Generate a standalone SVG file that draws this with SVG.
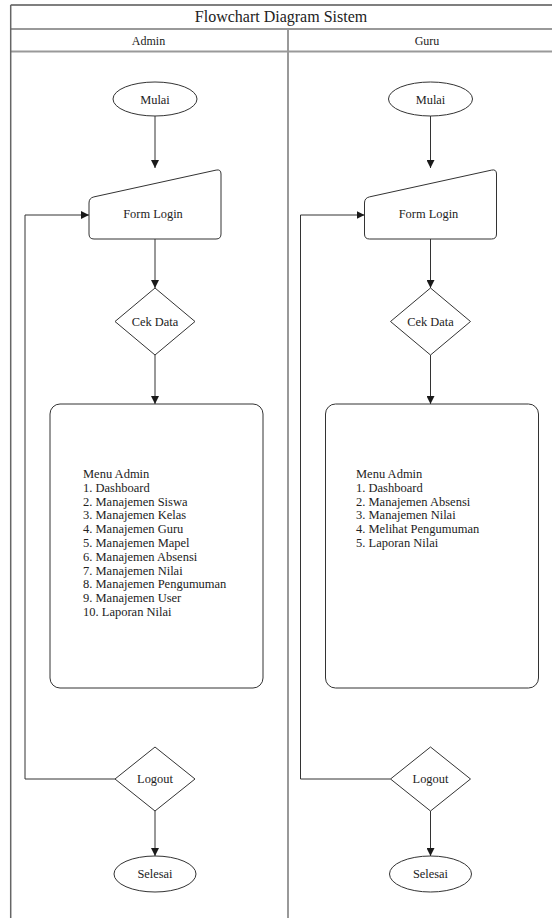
<svg xmlns="http://www.w3.org/2000/svg" width="552" height="918" viewBox="0 0 552 918">
<defs>
<marker id="arr" viewBox="0 0 10 10" refX="10" refY="5" markerWidth="8" markerHeight="8" markerUnits="userSpaceOnUse" orient="auto">
<path d="M0,0 L10,5 L0,10 Z" fill="#1a1a1a"/>
</marker>
</defs>
<style>
text{font-family:"Liberation Serif","Times New Roman",serif;fill:#222}
.t{font-size:16px;text-anchor:middle}
.h{font-size:12px;text-anchor:middle}
.n{font-size:12.4px;text-anchor:middle}
.m{font-size:12.5px}
.shape{fill:#fff;stroke:#333;stroke-width:1;stroke-linejoin:round}
.frame{stroke:#999;stroke-width:2;fill:none}
.conn{stroke:#333;stroke-width:1;fill:none}
</style>
<rect width="552" height="918" fill="#fff"/>
<g id="frame">
<line x1="10.7" y1="5" x2="552" y2="5" stroke="#555" stroke-width="1.3"/>
<line class="frame" x1="10.7" y1="29" x2="552" y2="29"/>
<line class="frame" x1="10.7" y1="51.5" x2="552" y2="51.5"/>
<line x1="10.7" y1="5" x2="10.7" y2="918" stroke="#666" stroke-width="1.5"/>
<line class="frame" x1="288" y1="29" x2="288" y2="918"/>
<text class="t" x="281" y="22">Flowchart Diagram Sistem</text>
<text class="h" x="148.5" y="44.5">Admin</text>
<text class="h" x="427" y="44.5">Guru</text>
</g>
<g id="connectors">
<path class="conn" d="M155,116 V168" marker-end="url(#arr)"/>
<path class="conn" d="M155,239 V288" marker-end="url(#arr)"/>
<path class="conn" d="M155,355 V404" marker-end="url(#arr)"/>
<path class="conn" d="M155,811 V856" marker-end="url(#arr)"/>
<path class="conn" d="M115,779 H25 V215 H89" marker-end="url(#arr)"/>
<path class="conn" d="M430.5,116 V168" marker-end="url(#arr)"/>
<path class="conn" d="M430.5,239 V288" marker-end="url(#arr)"/>
<path class="conn" d="M430.5,355 V404" marker-end="url(#arr)"/>
<path class="conn" d="M430.5,811 V856" marker-end="url(#arr)"/>
<path class="conn" d="M390.5,779 H300.5 V215 H364.5" marker-end="url(#arr)"/>
</g>
<g id="admin-mulai">
<ellipse class="shape" cx="155" cy="99" rx="42" ry="17"/>
<text class="n" x="155" y="103.5">Mulai</text>
</g>
<g id="admin-form-login">
<path class="shape" d="M89,203 Q89,198 93.9,196.9 L216.1,170.1 Q221,169 221,174 L221,234 Q221,239 216,239 L94,239 Q89,239 89,234 Z"/>
<text class="n" x="153" y="218">Form Login</text>
</g>
<g id="admin-cek-data">
<polygon class="shape" points="155,288 195,321.5 155,355 115,321.5"/>
<text class="n" x="155" y="325.5">Cek Data</text>
</g>
<g id="admin-menu">
<rect class="shape" x="50" y="404" width="213" height="284" rx="10"/>
<text class="m" x="83" y="478">Menu Admin</text>
<text class="m" x="83" y="491.8">1. Dashboard</text>
<text class="m" x="83" y="505.6">2. Manajemen Siswa</text>
<text class="m" x="83" y="519.4">3. Manajemen Kelas</text>
<text class="m" x="83" y="533.2">4. Manajemen Guru</text>
<text class="m" x="83" y="547">5. Manajemen Mapel</text>
<text class="m" x="83" y="560.8">6. Manajemen Absensi</text>
<text class="m" x="83" y="574.6">7. Manajemen Nilai</text>
<text class="m" x="83" y="588.4">8. Manajemen Pengumuman</text>
<text class="m" x="83" y="602.2">9. Manajemen User</text>
<text class="m" x="83" y="616">10. Laporan Nilai</text>
</g>
<g id="admin-logout">
<polygon class="shape" points="155,747 195,779 155,811 115,779"/>
<text class="n" x="155" y="783">Logout</text>
</g>
<g id="admin-selesai">
<ellipse class="shape" cx="155" cy="874" rx="41" ry="18"/>
<text class="n" x="155" y="878">Selesai</text>
</g>
<g id="guru-mulai">
<ellipse class="shape" cx="430.5" cy="99" rx="42" ry="17"/>
<text class="n" x="430.5" y="103.5">Mulai</text>
</g>
<g id="guru-form-login">
<path class="shape" d="M364.5,203 Q364.5,198 369.4,196.9 L491.6,170.1 Q496.5,169 496.5,174 L496.5,234 Q496.5,239 491.5,239 L369.5,239 Q364.5,239 364.5,234 Z"/>
<text class="n" x="428.5" y="218">Form Login</text>
</g>
<g id="guru-cek-data">
<polygon class="shape" points="430.5,288 470.5,321.5 430.5,355 390.5,321.5"/>
<text class="n" x="430.5" y="325.5">Cek Data</text>
</g>
<g id="guru-menu">
<rect class="shape" x="325.5" y="404" width="213" height="284" rx="10"/>
<text class="m" x="356" y="478">Menu Admin</text>
<text class="m" x="356" y="491.8">1. Dashboard</text>
<text class="m" x="356" y="505.6">2. Manajemen Absensi</text>
<text class="m" x="356" y="519.4">3. Manajemen Nilai</text>
<text class="m" x="356" y="533.2">4. Melihat Pengumuman</text>
<text class="m" x="356" y="547">5. Laporan Nilai</text>
</g>
<g id="guru-logout">
<polygon class="shape" points="430.5,747 470.5,779 430.5,811 390.5,779"/>
<text class="n" x="430.5" y="783">Logout</text>
</g>
<g id="guru-selesai">
<ellipse class="shape" cx="430.5" cy="874" rx="41" ry="18"/>
<text class="n" x="430.5" y="878">Selesai</text>
</g>
</svg>
